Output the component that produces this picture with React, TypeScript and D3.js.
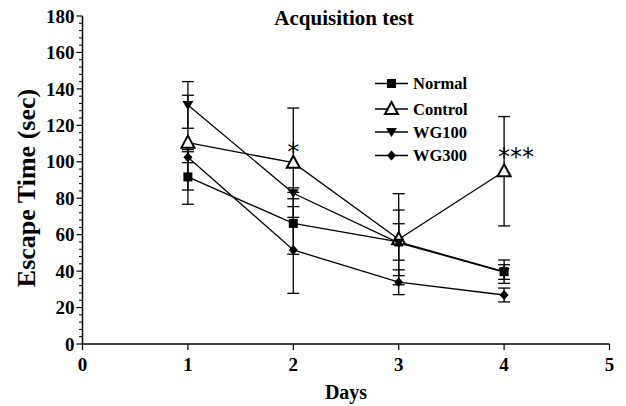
import React from "react";
import * as d3 from "d3";

const days = [1, 2, 3, 4];
const seriesNames = ["Normal", "Control", "WG100", "WG300"];
const normalMean = [91.7, 66.2, 56, 39.7];
const normalErr = [15, 17, 10, 6.4];
const controlMean = [110.5, 99.5, 57.5, 94.8];
const controlErr = [26, 30, 25, 30];
const wg100Mean = [131.2, 82.7, 55.5, 39.5];
const wg100Err = [12.8, 3, 18, 4];
const wg300Mean = [102.5, 51.6, 33.9, 26.9];
const wg300Err = [3, 23.8, 6.8, 3.8];
const xTicks = [0, 1, 2, 3, 4, 5];
const yTicks = [0, 20, 40, 60, 80, 100, 120, 140, 160, 180];
const annotations = [
  { day: 2, value: 99.5, text: "*" },
  { day: 4, value: 94.8, text: "***" },
];

const W = 626, H = 406;
const x = d3.scaleLinear().domain([0, 5]).range([82.5, 609.5]);
const y = d3.scaleLinear().domain([0, 180]).range([344, 16]);
const font = "'Liberation Serif', 'Times New Roman', serif";

type Kind = "square" | "triangle" | "down" | "diamond";
const series: { name: string; mean: number[]; err: number[]; kind: Kind }[] = [
  { name: seriesNames[0], mean: normalMean, err: normalErr, kind: "square" },
  { name: seriesNames[1], mean: controlMean, err: controlErr, kind: "triangle" },
  { name: seriesNames[2], mean: wg100Mean, err: wg100Err, kind: "down" },
  { name: seriesNames[3], mean: wg300Mean, err: wg300Err, kind: "diamond" },
];

function Marker({ kind, cx, cy }: { kind: Kind; cx: number; cy: number }) {
  if (kind === "square") {
    return <rect x={cx - 4.5} y={cy - 4.5} width={9} height={9} fill="#000" />;
  }
  if (kind === "triangle") {
    const p = d3.path();
    p.moveTo(cx, cy - 7);
    p.lineTo(cx + 6.5, cy + 5);
    p.lineTo(cx - 6.5, cy + 5);
    p.closePath();
    return <path d={p.toString()} fill="#fff" stroke="#000" strokeWidth={2} />;
  }
  if (kind === "down") {
    const p = d3.path();
    p.moveTo(cx - 5.5, cy - 4);
    p.lineTo(cx + 5.5, cy - 4);
    p.lineTo(cx, cy + 5);
    p.closePath();
    return <path d={p.toString()} fill="#000" />;
  }
  const p = d3.path();
  p.moveTo(cx, cy - 5);
  p.lineTo(cx + 4.5, cy);
  p.lineTo(cx, cy + 5);
  p.lineTo(cx - 4.5, cy);
  p.closePath();
  return <path d={p.toString()} fill="#000" />;
}

export default function App() {
  const line = d3.line<number>().x((_, i) => x(days[i])).y((d) => y(d));
  const minorY = d3.range(0, 181, 4).filter((v) => v % 20 !== 0);
  const legendY = [83.5, 109, 132, 155.5];
  return (
    <svg width={W} height={H} style={{ position: "absolute", left: 0, top: 0, background: "#fff" }}>
      <rect width={W} height={H} fill="#fff" />
      {/* axes */}
      <line x1={x(0)} x2={x(5)} y1={y(0)} y2={y(0)} stroke="#000" strokeWidth={1.5} />
      <line x1={x(0)} x2={x(0)} y1={y(0)} y2={y(180)} stroke="#000" strokeWidth={1.5} />
      {xTicks.map((t) => (
        <g key={"xt" + t}>
          <line x1={x(t)} x2={x(t)} y1={y(0)} y2={y(0) + 6} stroke="#000" strokeWidth={1.2} />
          <text x={x(t)} y={371} textAnchor="middle" fontFamily={font} fontWeight="bold" fontSize={19}>
            {t}
          </text>
        </g>
      ))}
      {yTicks.map((t) => (
        <g key={"yt" + t}>
          <line x1={x(0) - 6} x2={x(0)} y1={y(t)} y2={y(t)} stroke="#000" strokeWidth={1.2} />
          <text x={x(0) - 8} y={y(t)} dy="0.35em" textAnchor="end" fontFamily={font} fontWeight="bold" fontSize={19}>
            {t}
          </text>
        </g>
      ))}
      {minorY.map((t) => (
        <line key={"my" + t} x1={x(0) - 3.5} x2={x(0)} y1={y(t)} y2={y(t)} stroke="#000" strokeWidth={1} />
      ))}
      <text x={(x(0) + x(5)) / 2} y={399} textAnchor="middle" fontFamily={font} fontWeight="bold" fontSize={20}>
        Days
      </text>
      <text
        transform={`translate(26,${(y(0) + y(180)) / 2 + 8}) rotate(-90)`}
        textAnchor="middle"
        dy="0.35em"
        fontFamily={font}
        fontWeight="bold"
        fontSize={26}
      >
        Escape Time (sec)
      </text>
      <text x={344} y={25} textAnchor="middle" fontFamily={font} fontWeight="bold" fontSize={21}>
        Acquisition test
      </text>
      {/* error bars */}
      {series.map((s) =>
        s.mean.map((m, i) => {
          const cx = x(days[i]);
          const top = y(m + s.err[i]);
          const bot = y(m - s.err[i]);
          return (
            <g key={s.name + "e" + i} stroke="#000" strokeWidth={1.3}>
              <line x1={cx} x2={cx} y1={top} y2={bot} />
              <line x1={cx - 6} x2={cx + 6} y1={top} y2={top} />
              <line x1={cx - 6} x2={cx + 6} y1={bot} y2={bot} />
            </g>
          );
        })
      )}
      {/* lines */}
      {series.map((s) => (
        <path key={s.name + "l"} d={line(s.mean) || ""} fill="none" stroke="#000" strokeWidth={1.3} />
      ))}
      {/* markers */}
      {series.map((s) =>
        s.mean.map((m, i) => <Marker key={s.name + "m" + i} kind={s.kind} cx={x(days[i])} cy={y(m)} />)
      )}
      {/* annotations */}
      {annotations.map((a) => (
        <text
          key={"a" + a.day}
          x={x(a.day) + (a.text.length > 1 ? 12 : 0)}
          y={y(a.value) - 3 - (a.text.length > 1 ? 3 : 0)}
          textAnchor="middle"
          fontFamily="'DejaVu Sans', sans-serif"
          fontSize={24}
        >
          {a.text}
        </text>
      ))}
      {/* legend */}
      {series.map((s, i) => (
        <g key={s.name + "lg"}>
          <line x1={375} x2={408} y1={legendY[i]} y2={legendY[i]} stroke="#000" strokeWidth={1.3} />
          <Marker kind={s.kind} cx={391.5} cy={legendY[i]} />
          <text x={413} y={legendY[i]} dy="0.35em" fontFamily={font} fontWeight="bold" fontSize={16.5}>
            {s.name}
          </text>
        </g>
      ))}
    </svg>
  );
}
